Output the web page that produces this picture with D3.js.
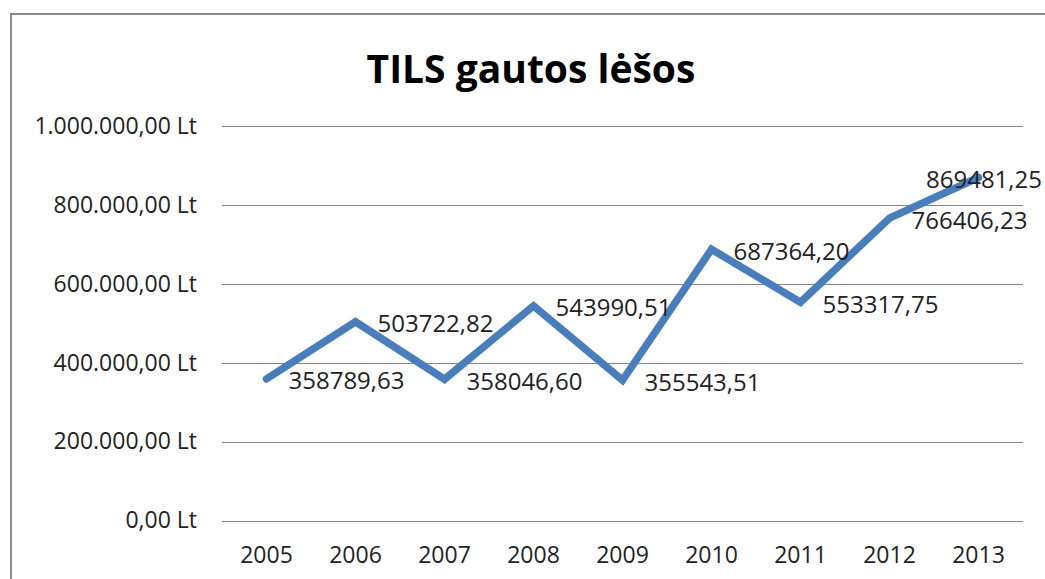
<!DOCTYPE html>
<html>
<head>
<meta charset="utf-8">
<script src="https://cdn.jsdelivr.net/npm/d3@7"></script>
<style>
  body { margin: 0; background: #fff; }
  svg { display: block; font-family: "Open Sans", sans-serif; }
</style>
</head>
<body>
<svg id="chart" width="1045" height="579"></svg>
<script>
const years = ["2005", "2006", "2007", "2008", "2009", "2010", "2011", "2012", "2013"]
const lesos = [358789.63, 503722.82, 358046.60, 543990.51, 355543.51, 687364.20, 553317.75, 766406.23, 869481.25]
const yTicks = [0, 200000, 400000, 600000, 800000, 1000000]
const title = "TILS gautos lėšos"

const width = 1045, height = 579
const plot = {left: 222, right: 1023, top: 126, bottom: 520.5}

const svg = d3.select('#chart')

// chart frame (cut off at right and bottom like the original)
svg.append('rect')
    .attr('x', 11).attr('y', 14)
    .attr('width', 1060).attr('height', 600)
    .attr('fill', 'none')
    .attr('stroke', '#8a8a8a')
    .attr('stroke-width', 2)

svg.append('text')
    .attr('x', 531).attr('y', 83)
    .attr('text-anchor', 'middle')
    .attr('font-size', 39)
    .attr('font-weight', 'bold')
    .attr('fill', '#000')
    .text(title)

const x = d3.scaleBand()
    .domain(years)
    .range([plot.left, plot.right])

const y = d3.scaleLinear()
    .domain([0, 1000000])
    .range([plot.bottom, plot.top])

const lt = d3.formatLocale({decimal: ",", thousands: ".", grouping: [3], currency: ["", " Lt"]})
const tickFmt = lt.format("$,.2f")
const labelFmt = lt.format(".2f")

const yAxis = svg.append('g')
    .attr('transform', `translate(${plot.left},0)`)
    .call(d3.axisLeft(y)
        .tickValues(yTicks)
        .tickFormat(tickFmt)
        .tickSize(-(plot.right - plot.left))
        .tickPadding(25))
yAxis.select('.domain').remove()
yAxis.selectAll('line').attr('stroke', '#868686').attr('shape-rendering', 'crispEdges')
yAxis.selectAll('text').attr('font-size', 23).attr('fill', '#222').attr('font-family', 'Open Sans')

const xAxis = svg.append('g')
    .attr('transform', `translate(0,${plot.bottom})`)
    .call(d3.axisBottom(x).tickSize(0).tickPadding(26))
xAxis.select('.domain').remove()
xAxis.selectAll('text').attr('font-size', 23).attr('fill', '#222').attr('font-family', 'Open Sans')

const cx = (d, i) => x(years[i]) + x.bandwidth() / 2

const line = d3.line()
    .x(cx)
    .y(d => y(d))

svg.append('path')
    .datum(lesos)
    .attr('d', line)
    .attr('fill', 'none')
    .attr('stroke', '#4a7ebb')
    .attr('stroke-width', 7.5)
    .attr('stroke-linejoin', 'miter')
    .attr('stroke-linecap', 'round')

const labels = svg.append('g')
    .selectAll('text')
    .data(lesos)
    .join('text')
    .attr('x', (d, i) => cx(d, i) + 22)
    .attr('y', d => y(d) + 2)
    .attr('dy', '0.35em')
    .attr('font-size', 24)
    .attr('fill', '#222')
    .text(d => labelFmt(d))

// keep labels inside the chart frame
labels.each(function () {
    const t = d3.select(this)
    const w = this.getComputedTextLength()
    const lx = +t.attr('x')
    if (lx + w > width - 3) t.attr('x', width - 3 - w)
})
</script>
</body>
</html>
